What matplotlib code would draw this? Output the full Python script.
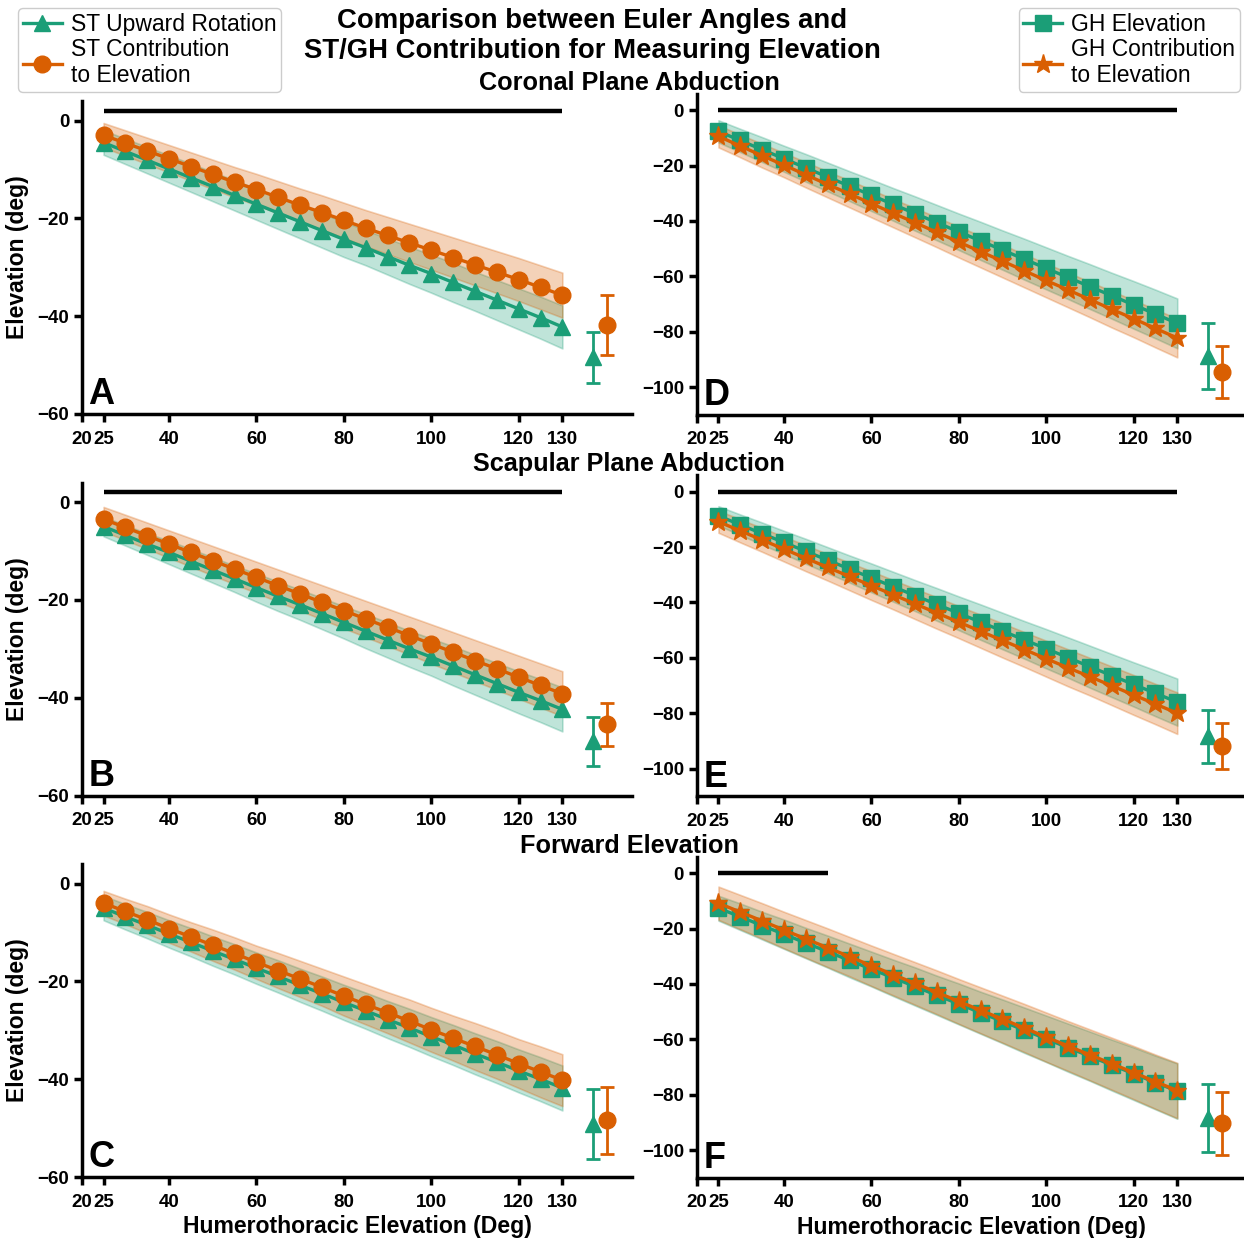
import matplotlib
matplotlib.use('Agg')
import matplotlib.pyplot as plt
from matplotlib.lines import Line2D

plt.rcParams.update({
    'font.family': ['Liberation Sans', 'DejaVu Sans'],
    'font.size': 13,
    'axes.linewidth': 2.5,
})

GREEN = '#1b9e77'
ORANGE = '#d95f02'

# humerothoracic elevation (deg)
X = [25, 30, 35, 40, 45, 50, 55, 60, 65, 70, 75, 80,
     85, 90, 95, 100, 105, 110, 115, 120, 125, 130]
XTICKS = [20, 25, 40, 60, 80, 100, 120, 130]

# ---- ST (left column): green = ST upward rotation, orange = ST contribution
A_GREEN = [-4.5, -6.3, -8.1, -9.9, -11.7, -13.5, -15.3, -17.1, -18.9, -20.7, -22.5,
           -24.3, -26.0, -27.8, -29.6, -31.3, -33.1, -34.9, -36.7, -38.5, -40.3, -42.2]
A_GREEN_SD = [2.5, 2.6, 2.7, 2.8, 2.9, 3.0, 3.1, 3.2, 3.3, 3.4, 3.5,
              3.6, 3.6, 3.7, 3.8, 3.9, 4.0, 4.0, 4.1, 4.2, 4.3, 4.4]
A_ORANGE = [-3.0, -4.6, -6.2, -7.8, -9.4, -11.0, -12.6, -14.1, -15.7, -17.3, -18.8,
            -20.4, -22.0, -23.5, -25.0, -26.5, -28.0, -29.5, -31.0, -32.5, -34.1, -35.7]
A_ORANGE_SD = [2.5, 2.6, 2.7, 2.8, 2.9, 3.0, 3.1, 3.2, 3.3, 3.4, 3.5,
               3.6, 3.7, 3.8, 3.9, 4.0, 4.1, 4.2, 4.3, 4.4, 4.5, 4.6]

B_GREEN = [-5.0, -6.8, -8.6, -10.3, -12.1, -13.9, -15.7, -17.5, -19.3, -21.0, -22.8,
           -24.6, -26.4, -28.2, -30.0, -31.7, -33.5, -35.3, -37.1, -38.9, -40.6, -42.4]
B_GREEN_SD = [2.0, 2.1, 2.2, 2.4, 2.5, 2.6, 2.7, 2.9, 3.0, 3.1, 3.2,
              3.3, 3.5, 3.6, 3.7, 3.8, 4.0, 4.1, 4.2, 4.3, 4.4, 4.5]
B_ORANGE = [-3.5, -5.2, -6.9, -8.6, -10.3, -12.0, -13.7, -15.4, -17.1, -18.8, -20.5,
            -22.2, -23.9, -25.6, -27.3, -29.0, -30.7, -32.4, -34.1, -35.8, -37.5, -39.2]
B_ORANGE_SD = [2.5, 2.6, 2.7, 2.8, 2.9, 3.0, 3.1, 3.2, 3.3, 3.4, 3.5,
               3.6, 3.7, 3.8, 3.9, 4.0, 4.1, 4.2, 4.3, 4.4, 4.5, 4.6]

C_GREEN = [-5.0, -6.8, -8.5, -10.3, -12.0, -13.8, -15.5, -17.3, -19.0, -20.8, -22.5,
           -24.3, -26.0, -27.8, -29.5, -31.3, -33.0, -34.8, -36.5, -38.3, -40.0, -41.8]
C_GREEN_SD = [2.5, 2.6, 2.7, 2.8, 2.9, 3.0, 3.1, 3.2, 3.3, 3.4, 3.5,
              3.6, 3.7, 3.8, 3.9, 4.0, 4.1, 4.2, 4.3, 4.4, 4.5, 4.6]
C_ORANGE = [-4.0, -5.7, -7.4, -9.2, -10.9, -12.6, -14.3, -16.1, -17.8, -19.5, -21.2,
            -23.0, -24.7, -26.4, -28.1, -29.9, -31.6, -33.3, -35.0, -36.8, -38.5, -40.2]
C_ORANGE_SD = [2.5, 2.6, 2.8, 2.9, 3.0, 3.2, 3.3, 3.4, 3.6, 3.7, 3.8,
               4.0, 4.1, 4.2, 4.4, 4.5, 4.6, 4.8, 4.9, 5.0, 5.2, 5.3]

# ---- GH (right column): green = GH elevation, orange = GH contribution
D_GREEN = [-7.6, -10.9, -14.2, -17.5, -20.8, -24.1, -27.4, -30.7, -34.0, -37.3, -40.6,
           -43.9, -47.2, -50.5, -53.8, -57.1, -60.4, -63.7, -67.0, -70.3, -73.6, -77.0]
D_GREEN_SD = [4.0, 4.2, 4.5, 4.7, 5.0, 5.2, 5.4, 5.7, 5.9, 6.2, 6.4,
              6.6, 6.9, 7.1, 7.4, 7.6, 7.8, 8.1, 8.3, 8.6, 8.8, 9.0]
D_ORANGE = [-9.4, -12.9, -16.4, -19.8, -23.3, -26.8, -30.2, -33.7, -37.2, -40.6, -44.1,
            -47.6, -51.1, -54.5, -58.0, -61.5, -64.9, -68.4, -71.9, -75.3, -78.8, -82.3]
D_ORANGE_SD = [4.0, 4.1, 4.3, 4.4, 4.6, 4.7, 4.9, 5.0, 5.1, 5.3, 5.4,
               5.6, 5.7, 5.9, 6.0, 6.1, 6.3, 6.4, 6.6, 6.7, 6.9, 7.0]

E_GREEN = [-8.7, -11.9, -15.1, -18.3, -21.5, -24.7, -27.9, -31.1, -34.3, -37.5, -40.7,
           -43.9, -47.1, -50.3, -53.5, -56.7, -59.9, -63.2, -66.4, -69.6, -72.8, -76.0]
E_GREEN_SD = [3.5, 3.7, 4.0, 4.2, 4.5, 4.7, 4.9, 5.2, 5.4, 5.6, 5.9,
              6.1, 6.4, 6.6, 6.8, 7.1, 7.3, 7.6, 7.8, 8.0, 8.3, 8.5]
E_ORANGE = [-10.8, -14.1, -17.4, -20.7, -24.0, -27.3, -30.6, -33.9, -37.2, -40.5, -43.8,
            -47.1, -50.4, -53.7, -57.0, -60.3, -63.6, -66.8, -70.1, -73.4, -76.7, -80.0]
E_ORANGE_SD = [4.0, 4.2, 4.3, 4.5, 4.7, 4.8, 5.0, 5.2, 5.3, 5.5, 5.7,
               5.8, 6.0, 6.2, 6.3, 6.5, 6.7, 6.8, 7.0, 7.2, 7.3, 7.5]

F_GREEN = [-12.6, -15.7, -18.9, -22.0, -25.2, -28.3, -31.5, -34.6, -37.8, -40.9, -44.1,
           -47.2, -50.4, -53.5, -56.7, -59.8, -63.0, -66.1, -69.3, -72.4, -75.6, -78.7]
F_GREEN_SD = [4.5, 4.8, 5.0, 5.3, 5.5, 5.8, 6.1, 6.3, 6.6, 6.9, 7.1,
              7.4, 7.6, 7.9, 8.2, 8.4, 8.7, 8.9, 9.2, 9.5, 9.7, 10.0]
F_ORANGE = [-10.8, -14.0, -17.2, -20.5, -23.7, -26.9, -30.1, -33.4, -36.6, -39.8, -43.0,
            -46.3, -49.5, -52.7, -55.9, -59.2, -62.4, -65.6, -68.8, -72.0, -75.3, -78.5]
F_ORANGE_SD = [6.0, 6.2, 6.4, 6.6, 6.8, 7.0, 7.1, 7.3, 7.5, 7.7, 7.9,
               8.1, 8.3, 8.5, 8.7, 8.9, 9.0, 9.2, 9.4, 9.6, 9.8, 10.0]

# summary points at the right of each panel: (mean, sd)
SUM_GREEN = {'A': (-48.4, 5.2), 'B': (-48.9, 5.0), 'C': (-49.2, 7.1),
             'D': (-88.8, 11.8), 'E': (-88.4, 9.7), 'F': (-88.4, 12.3)}
SUM_ORANGE = {'A': (-41.8, 6.2), 'B': (-45.4, 4.4), 'C': (-48.4, 6.8),
              'D': (-94.5, 9.5), 'E': (-91.7, 8.3), 'F': (-90.4, 11.3)}
SUM_X_GREEN = 137
SUM_X_ORANGE = 140.3

# significance bars: (start, end, y)
SIG = {'A': (25, 130, 2), 'B': (25, 130, 2), 'C': None,
       'D': (25, 130, 0), 'E': (25, 130, 0), 'F': (25, 50, 0)}

PANELS = {
    'A': (A_GREEN, A_GREEN_SD, A_ORANGE, A_ORANGE_SD),
    'B': (B_GREEN, B_GREEN_SD, B_ORANGE, B_ORANGE_SD),
    'C': (C_GREEN, C_GREEN_SD, C_ORANGE, C_ORANGE_SD),
    'D': (D_GREEN, D_GREEN_SD, D_ORANGE, D_ORANGE_SD),
    'E': (E_GREEN, E_GREEN_SD, E_ORANGE, E_ORANGE_SD),
    'F': (F_GREEN, F_GREEN_SD, F_ORANGE, F_ORANGE_SD),
}

W, H = 1244, 1238
fig = plt.figure(figsize=(W / 100, H / 100), dpi=100)

ROW_STEP = 381.5
for key in 'ABCDEF':
    col = 0 if key in 'ABC' else 1
    row = 'ABCDEF'.index(key) % 3
    if col == 0:
        left, bottom_px, height_px = 81.7, 414.0, 313.0
        ylim, yticks = (-60, 4), [-60, -40, -20, 0]
        gmark, omark = '^', 'o'
    else:
        left, bottom_px, height_px = 696.6, 414.7, 321.0
        ylim, yticks = (-110, 6), [-100, -80, -60, -40, -20, 0]
        gmark, omark = 's', '*'
    bottom_px += row * ROW_STEP
    ax = fig.add_axes([left / W, 1 - bottom_px / H, 550.6 / W, height_px / H])

    g, gsd, o, osd = PANELS[key]
    glo = [m - s for m, s in zip(g, gsd)]
    ghi = [m + s for m, s in zip(g, gsd)]
    olo = [m - s for m, s in zip(o, osd)]
    ohi = [m + s for m, s in zip(o, osd)]
    ax.fill_between(X, glo, ghi, color=GREEN, alpha=0.28, lw=1.2, zorder=1)
    ax.fill_between(X, olo, ohi, color=ORANGE, alpha=0.28, lw=1.2, zorder=1)

    ax.plot(X, g, color=GREEN, lw=2.4, marker=gmark, ms=12 if gmark == '^' else 11,
            zorder=3)
    ax.plot(X, o, color=ORANGE, lw=2.4, marker=omark,
            ms=12 if omark == 'o' else 14, zorder=4)

    gm, gs = SUM_GREEN[key]
    om, osd_ = SUM_ORANGE[key]
    ax.errorbar(SUM_X_GREEN, gm, yerr=gs, color=GREEN, marker='^', ms=12,
                capsize=5, elinewidth=2, capthick=2, zorder=3)
    ax.errorbar(SUM_X_ORANGE, om, yerr=osd_, color=ORANGE, marker='o', ms=12,
                capsize=5, elinewidth=2, capthick=2, zorder=4)

    if SIG[key] is not None:
        x0, x1, ys = SIG[key]
        ax.plot([x0, x1], [ys, ys], color='black', lw=3.2, solid_capstyle='butt',
                zorder=5)

    ax.set_xlim(20, 146)
    ax.set_ylim(*ylim)
    ax.set_xticks(XTICKS)
    ax.set_yticks(yticks)
    ax.spines['top'].set_visible(False)
    ax.spines['right'].set_visible(False)
    ax.tick_params(direction='out', length=6, width=2.5, labelsize=13.5, pad=3)
    ax.tick_params(axis='x', pad=6)
    for lab in ax.get_xticklabels() + ax.get_yticklabels():
        lab.set_fontweight('bold')
    ax.text(0.012, 0.005, key, transform=ax.transAxes, fontsize=26,
            fontweight='bold', ha='left', va='bottom', zorder=6)

    if col == 0:
        ax.set_ylabel('Elevation (deg)', fontsize=16.5, fontweight='bold', labelpad=6)
    if row == 2:
        ax.set_xlabel('Humerothoracic Elevation (Deg)', fontsize=16.6,
                      fontweight='bold', labelpad=3)

# titles
fig.text(592 / W, 1 - 36 / H,
         'Comparison between Euler Angles and\nST/GH Contribution for Measuring Elevation',
         ha='center', va='center', fontsize=19.8, fontweight='bold', linespacing=1.2)
for ypx, t in [(83, 'Coronal Plane Abduction'), (464, 'Scapular Plane Abduction'),
               (846, 'Forward Elevation')]:
    fig.text(629 / W, 1 - ypx / H, t, ha='center', va='center', fontsize=18.2,
             fontweight='bold')

# legends
left_handles = [
    Line2D([0], [0], color=GREEN, lw=2.4, marker='^', ms=12, label='ST Upward Rotation'),
    Line2D([0], [0], color=ORANGE, lw=2.4, marker='o', ms=12,
           label='ST Contribution\nto Elevation'),
]
right_handles = [
    Line2D([0], [0], color=GREEN, lw=2.4, marker='s', ms=11, label='GH Elevation'),
    Line2D([0], [0], color=ORANGE, lw=2.4, marker='*', ms=14,
           label='GH Contribution\nto Elevation'),
]
leg_kw = dict(fontsize=16.5, handlelength=1.7, handletextpad=0.4, borderpad=0.2,
              labelspacing=0.1, framealpha=1, edgecolor='#cccccc', fancybox=True,
              borderaxespad=0)
fig.legend(handles=left_handles, loc='upper left',
           bbox_to_anchor=(18 / W, 1 - 8 / H), **leg_kw)
fig.legend(handles=right_handles, loc='upper right',
           bbox_to_anchor=(1240 / W, 1 - 8 / H), **leg_kw)

fig.savefig('out.png', dpi=100)
